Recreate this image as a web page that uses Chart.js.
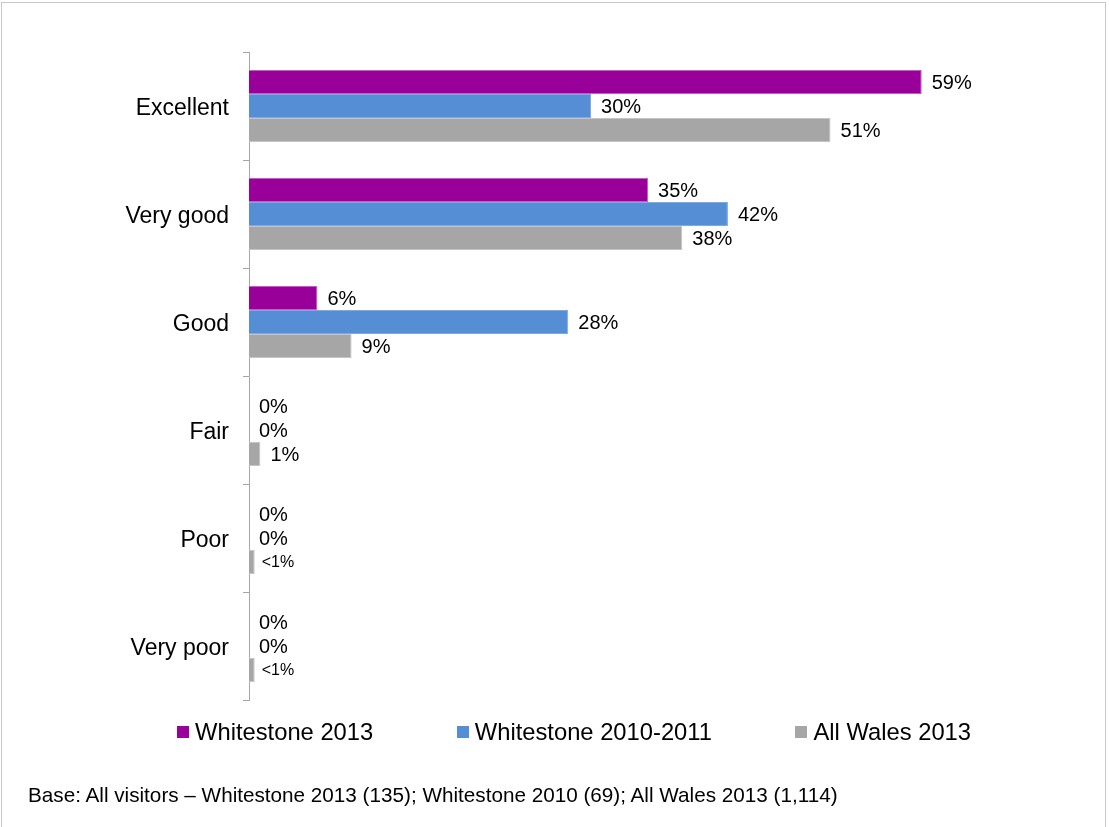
<!DOCTYPE html>
<html>
<head>
<meta charset="utf-8">
<script src="https://cdn.jsdelivr.net/npm/chart.js@4/dist/chart.umd.min.js"></script>
<style>
  html, body { margin: 0; padding: 0; background: #fff; }
  body { width: 1109px; height: 827px; position: relative; overflow: hidden; font-family: "Liberation Sans", Arial, sans-serif; color: #000; }
  #frame { position: absolute; left: 1px; top: 2px; width: 1105px; height: 830px; border: 1px solid #c8c8c8; box-sizing: border-box; }
  #chart-wrap { position: absolute; left: 0; top: 0; width: 1109px; height: 827px; }
  #legend { position: absolute; left: 177px; top: 718px; display: flex; gap: 83.5px; font-size: 23.75px; line-height: 28px; white-space: nowrap; }
  #legend .item { display: flex; align-items: center; }
  #legend .box { width: 12px; height: 12px; margin-right: 6px; }
  #base-note { position: absolute; left: 28px; top: 783px; font-size: 20.7px; line-height: 24px; white-space: nowrap; }
</style>
</head>
<body>
<div id="frame"></div>
<div id="chart-wrap"><canvas id="rating-chart" width="1109" height="827"></canvas></div>
<div id="legend"></div>
<div id="base-note">Base: All visitors – Whitestone 2013 (135); Whitestone 2010 (69); All Wales 2013 (1,114)</div>
<script>
const categories = ['Excellent', 'Very good', 'Good', 'Fair', 'Poor', 'Very poor'];
const seriesNames = ['Whitestone 2013', 'Whitestone 2010-2011', 'All Wales 2013'];
const whitestone2013 = [59, 35, 6, 0, 0, 0];
const whitestone2010 = [30, 42, 28, 0, 0, 0];
const allWales2013 = [51, 38, 9, 1, 0.5, 0.5];   // 0.5 = "<1%"
const seriesColors = ['#990099', '#558ED5', '#A6A6A6'];
const seriesBorders = ['#c35ec3', '#7fa9e0', '#c4c4c4'];

function pctLabel(v) {
    if (v > 0 && v < 1) return '<1%';
    return v + '%';
}

// value labels at the end of each bar
const barLabels = {
    id: 'barLabels',
    afterDatasetsDraw(chart) {
        const ctx = chart.ctx;
        ctx.save();
        ctx.fillStyle = '#000';
        ctx.textAlign = 'left';
        ctx.textBaseline = 'middle';
        chart.data.datasets.forEach((ds, i) => {
            const meta = chart.getDatasetMeta(i);
            meta.data.forEach((bar, j) => {
                const v = ds.data[j];
                const txt = pctLabel(v);
                const small = txt === '<1%';
                ctx.font = (small ? '16px' : '20px') + ' "Liberation Sans", Arial, sans-serif';
                ctx.fillText(txt, bar.x + (small ? 7 : 10), bar.y + 1);
            });
        });
        ctx.restore();
    }
};

const allSeries = [whitestone2013, whitestone2010, allWales2013];

new Chart(document.getElementById('rating-chart'), {
    type: 'bar',
    data: {
        labels: categories,
        datasets: allSeries.map((d, i) => ({
            label: seriesNames[i],
            data: d,
            backgroundColor: seriesColors[i],
            borderColor: seriesBorders[i],
            borderWidth: 1,
            categoryPercentage: 0.667,
            barPercentage: 1
        }))
    },
    options: {
        indexAxis: 'y',
        responsive: false,
        animation: false,
        layout: { padding: { top: 52, left: 0, right: 177, bottom: 127 } },
        plugins: { legend: { display: false }, tooltip: { enabled: false } },
        scales: {
            x: { display: false, min: 0, max: 59.9 },
            y: {
                afterFit: (scale) => { scale.width = 249; },
                border: { display: true, color: '#a6a6a6', width: 1 },
                grid: { drawOnChartArea: false, drawTicks: true, tickLength: 6, color: '#a6a6a6' },
                ticks: { color: '#000', padding: 14, labelOffset: 3, font: { family: '"Liberation Sans", Arial, sans-serif', size: 23 } }
            }
        }
    },
    plugins: [barLabels]
});

const legendEl = document.getElementById('legend');
seriesNames.forEach((name, i) => {
    const item = document.createElement('div');
    item.className = 'item';
    item.innerHTML = `<span class="box" style="background:${seriesColors[i]}"></span><span>${name}</span>`;
    legendEl.appendChild(item);
});
</script>
</body>
</html>
